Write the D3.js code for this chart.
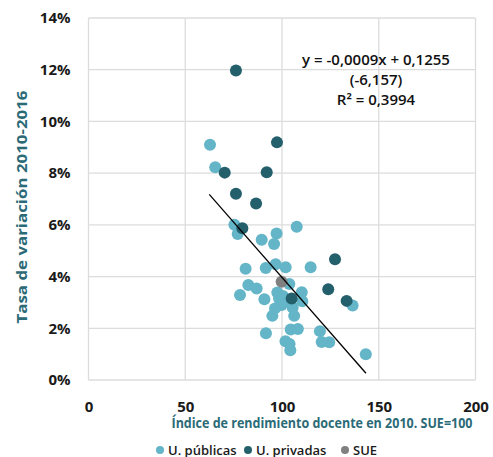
<!DOCTYPE html>
<html><head><meta charset="utf-8">
<script src="https://cdn.jsdelivr.net/npm/d3@7"></script>
<style>body{margin:0;background:#fff;}svg{display:block;font-family:"Open Sans",sans-serif;}</style>
</head><body><svg id="c" width="493" height="457"></svg>
<script>
const publicas = [[62.8,9.10],[65.5,8.23],[75.4,6.00],[77.1,5.65],[107.6,5.93],[97.2,5.67],[89.5,5.42],[95.9,5.26],[81.2,4.30],[91.6,4.33],[96.7,4.48],[101.9,4.36],[114.8,4.36],[103.8,3.71],[82.6,3.67],[86.9,3.54],[78.3,3.29],[110.2,3.39],[90.9,3.12],[97.6,3.38],[98.5,3.15],[100.5,3.25],[110.5,3.05],[103.3,3.03],[99.8,2.90],[96.4,2.77],[105.5,2.80],[95.0,2.48],[106.3,2.48],[91.7,1.81],[104.5,1.95],[108.2,1.97],[119.6,1.89],[101.8,1.50],[103.9,1.39],[104.3,1.15],[120.5,1.47],[124.4,1.46],[136.5,2.88],[143.3,1.00]];
const privadas = [[76.2,11.97],[97.4,9.19],[70.4,8.02],[92.1,8.03],[76.2,7.20],[86.6,6.83],[79.5,5.87],[127.4,4.67],[123.9,3.51],[105.0,3.15],[133.4,3.06]];
const sue = [[99.8,3.80]];
const trend = [[62.4,7.18],[143.4,0.26]];
const xTicks = [0,50,100,150,200];
const yTicks = [0,2,4,6,8,10,12,14];
const eqLines = ["y = -0,0009x + 0,1255","(-6,157)","R² = 0,3994"];
const legendItems = ["U. públicas","U. privadas","SUE"];

const svg = d3.select("#c");
const L=88.5,R=475.5,T=18,B=380;
const x = d3.scaleLinear().domain([0,200]).range([L,R]);
const y = d3.scaleLinear().domain([0,14]).range([B,T]);
const cLight="#63b5c7", cDark="#245f6c", cGray="#808080", cTitle="#2b6a77";

const g = svg.append("g");
g.selectAll(".vg").data(xTicks).join("line").attr("x1",d=>x(d)).attr("x2",d=>x(d)).attr("y1",T).attr("y2",B).attr("stroke","#dcdcdc").attr("stroke-width",1.3);
g.selectAll(".hg").data(yTicks).join("line").attr("y1",d=>y(d)).attr("y2",d=>y(d)).attr("x1",L).attr("x2",R).attr("stroke","#dcdcdc").attr("stroke-width",1.3);

const xa = svg.append("g").attr("transform",`translate(0,${B})`).call(d3.axisBottom(x).tickValues(xTicks).tickSize(0).tickPadding(21));
const ya = svg.append("g").attr("transform",`translate(${L},0)`).call(d3.axisLeft(y).tickValues(yTicks).tickSize(0).tickPadding(18).tickFormat(d=>d+"%"));
[xa,ya].forEach(a=>{a.select(".domain").remove();a.selectAll("text").attr("font-family","Open Sans").attr("font-weight","bold").attr("font-size",15).attr("fill","#1a1a1a");});
xa.selectAll("text").attr("dy","0").attr("y",21+11);

const r=6;
function dots(data,col){svg.append("g").selectAll("circle").data(data).join("circle").attr("cx",d=>x(d[0])).attr("cy",d=>y(d[1])).attr("r",r).attr("fill",col);}
dots(publicas,cLight); dots(privadas,cDark); dots(sue,cGray);

svg.append("path").datum(trend).attr("d",d3.line().x(d=>x(d[0])).y(d=>y(d[1]))).attr("stroke","#000").attr("stroke-width",1.3).attr("fill","none");

svg.append("g").selectAll("text").data(eqLines).join("text").attr("x",376).attr("y",(d,i)=>65+i*20).attr("text-anchor","middle").attr("font-size",15).attr("font-weight",600).attr("fill","#111").text(d=>d);

svg.append("text").attr("x",322).attr("y",428).attr("text-anchor","middle").attr("font-weight","bold").attr("font-size",15).attr("textLength",301).attr("lengthAdjust","spacingAndGlyphs").attr("fill",cTitle).text("Índice de rendimiento docente en 2010. SUE=100");
svg.append("text").attr("transform","translate(27,207) rotate(-90)").attr("text-anchor","middle").attr("font-weight","bold").attr("font-size",15).attr("textLength",233).attr("lengthAdjust","spacingAndGlyphs").attr("fill",cTitle).text("Tasa de variación 2010-2016");

const lx=[160,248,345], cols=[cLight,cDark,cGray];
const lg=svg.append("g").selectAll("g").data(legendItems).join("g").attr("transform",(d,i)=>`translate(${lx[i]},450)`);
lg.append("circle").attr("r",4).attr("fill",(d,i)=>cols[i]);
lg.append("text").attr("x",8).attr("y",5).attr("font-size",13).attr("font-weight",600).attr("fill","#1a1a1a").text(d=>d);
</script></body></html>
